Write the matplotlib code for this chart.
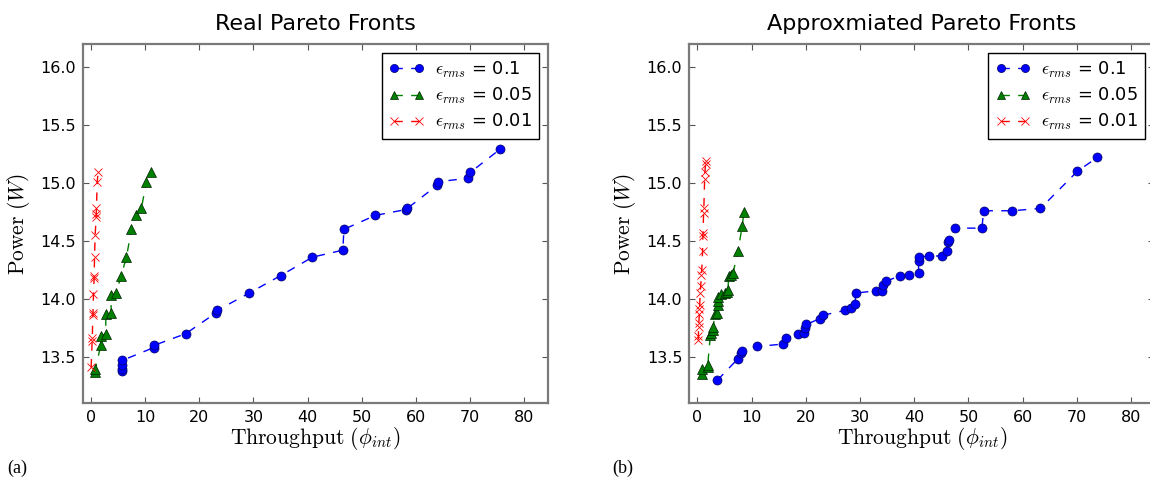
import numpy as np
import matplotlib as mpl
import matplotlib.pyplot as plt

# Real Pareto fronts (left panel)
real_x_01 = [5.8, 5.8, 5.8, 5.8, 11.6, 11.7, 17.5, 23.1, 23.3, 29.2, 35.0,
             40.9, 46.5, 46.7, 52.5, 58.1, 58.4, 63.9, 64.1, 69.6, 70.0, 75.5]
real_y_01 = [13.38, 13.40, 13.43, 13.47, 13.58, 13.60, 13.70, 13.88, 13.90, 14.05, 14.20,
             14.36, 14.42, 14.60, 14.72, 14.77, 14.78, 14.98, 15.01, 15.04, 15.09, 15.29]
real_x_005 = [0.85, 0.85, 1.84, 1.84, 2.76, 2.76, 3.74, 3.74, 4.66, 5.6,
              6.57, 7.5, 8.4, 9.33, 10.25, 11.17]
real_y_005 = [13.37, 13.40, 13.60, 13.68, 13.70, 13.87, 13.88, 14.03, 14.05, 14.20,
              14.36, 14.60, 14.72, 14.78, 15.01, 15.09]
real_x_001 = [0.06, 0.25, 0.27, 0.37, 0.40, 0.49, 0.61, 0.63, 0.68, 0.8,
              0.98, 1.0, 1.04, 1.17, 1.35]
real_y_001 = [13.41, 13.64, 13.66, 13.86, 13.88, 14.04, 14.18, 14.20, 14.36, 14.55,
              14.71, 14.73, 14.78, 15.01, 15.09]

# Approximated Pareto fronts (right panel)
appr_x_01 = [3.7, 7.4, 8.1, 8.2, 11.0, 15.7, 16.4, 18.6, 19.7, 19.9, 20.1, 22.6, 23.2,
             27.2, 28.4, 29.1, 29.2, 33.0, 34.1, 34.2, 34.8, 37.3, 39.1, 40.8, 40.8,
             40.9, 42.7, 45.2, 46.1, 46.2, 46.4, 47.6, 52.5, 52.8, 58.1, 63.3, 70.1, 73.8]
appr_y_01 = [13.30, 13.48, 13.53, 13.55, 13.59, 13.61, 13.66, 13.70, 13.71, 13.75, 13.78,
             13.83, 13.86, 13.90, 13.92, 13.96, 14.05, 14.07, 14.07, 14.12, 14.15, 14.20,
             14.21, 14.22, 14.33, 14.36, 14.37, 14.37, 14.41, 14.49, 14.51, 14.61, 14.61,
             14.76, 14.76, 14.78, 15.10, 15.22]
appr_x_005 = [0.92, 0.92, 1.9, 1.9, 2.39, 2.57, 2.82, 2.94, 3.19, 3.68, 3.74, 3.8, 3.8,
              4.41, 5.0, 5.5, 5.64, 5.76, 6.25, 6.56, 7.47, 8.27, 8.58]
appr_y_005 = [13.35, 13.40, 13.41, 13.43, 13.69, 13.71, 13.73, 13.76, 13.87, 13.88,
              13.95, 13.98, 14.02, 14.04, 14.05, 14.06, 14.08, 14.20, 14.21, 14.22,
              14.41, 14.63, 14.75]
appr_x_001 = [0.15, 0.18, 0.22, 0.25, 0.35, 0.38, 0.42, 0.5, 0.6, 0.75, 0.8, 0.95,
              1.0, 1.05, 1.13, 1.18, 1.33, 1.38, 1.5, 1.53]
appr_y_001 = [13.65, 13.68, 13.76, 13.79, 13.87, 13.91, 13.95, 14.05, 14.11, 14.21,
              14.25, 14.41, 14.54, 14.57, 14.74, 14.78, 15.03, 15.09, 15.16, 15.19]

labels = [r'$\epsilon_{rms}$ = 0.1', r'$\epsilon_{rms}$ = 0.05', r'$\epsilon_{rms}$ = 0.01']
titles = ['Real Pareto Fronts', 'Approxmiated Pareto Fronts']
xticks = [0, 10, 20, 30, 40, 50, 60, 70, 80]
yticks = [13.5, 14.0, 14.5, 15.0, 15.5, 16.0]

mpl.rcParams['mathtext.fontset'] = 'cm'
mpl.rcParams['font.family'] = 'DejaVu Sans'

fig = plt.figure(figsize=(11.5, 4.83), dpi=100)
w, h = 465/1150, 359.6/483
ax1 = fig.add_axes([82.7/1150, 1-403.3/483, w, h])
ax2 = fig.add_axes([689.3/1150, 1-403.3/483, w, h])

panels = [
    (ax1, (real_x_01, real_y_01), (real_x_005, real_y_005), (real_x_001, real_y_001)),
    (ax2, (appr_x_01, appr_y_01), (appr_x_005, appr_y_005), (appr_x_001, appr_y_001)),
]

spine_col = '#7a7a7a'
for i, (ax, s1, s2, s3) in enumerate(panels):
    ax.plot(*s1, color='b', ls='--', dashes=(6, 6), lw=1, marker='o', ms=6.5,
            mec='#000060', mew=0.5, label=labels[0])
    ax.plot(*s2, color='#008000', ls='--', dashes=(6, 6), lw=1, marker='^', ms=7,
            mec='#002000', mew=0.5, label=labels[1])
    ax.plot(*s3, color='r', ls='--', dashes=(6, 6), lw=1, marker='x', ms=6,
            mew=0.6, label=labels[2])
    ax.set_xlim(-1.5, 84.3)
    ax.set_ylim(13.1, 16.2)
    ax.set_xticks(xticks)
    ax.set_yticks(yticks)
    ax.set_yticklabels(['%.1f' % v for v in yticks])
    ax.tick_params(direction='in', top=True, right=True, length=4, width=0.8,
                   color='#555555', labelsize=11.5, pad=5)
    for sp in ax.spines.values():
        sp.set_color(spine_col)
        sp.set_linewidth(1.6)
    ax.set_title(titles[i], fontsize=16, pad=10)
    ax.set_xlabel(r'$\mathrm{Throughput}\ (\phi_{int})$', fontsize=15.5, labelpad=0)
    ax.set_ylabel(r'$\mathrm{Power}\ (W)$', fontsize=15.5, labelpad=6)
    leg = ax.legend(loc='upper right', numpoints=2, fontsize=12.8, fancybox=False,
                    framealpha=1, edgecolor='black', borderaxespad=0.5,
                    handlelength=2.0, handletextpad=0.6, labelspacing=0.35,
                    markerscale=0.9)
    leg.get_frame().set_linewidth(1.0)

fig.text(7/1150, 1-468/483, '(a)', family='Liberation Serif', fontsize=13, va='center')
fig.text(612/1150, 1-468/483, '(b)', family='Liberation Serif', fontsize=13, va='center')

fig.savefig('out.png', dpi=100)
